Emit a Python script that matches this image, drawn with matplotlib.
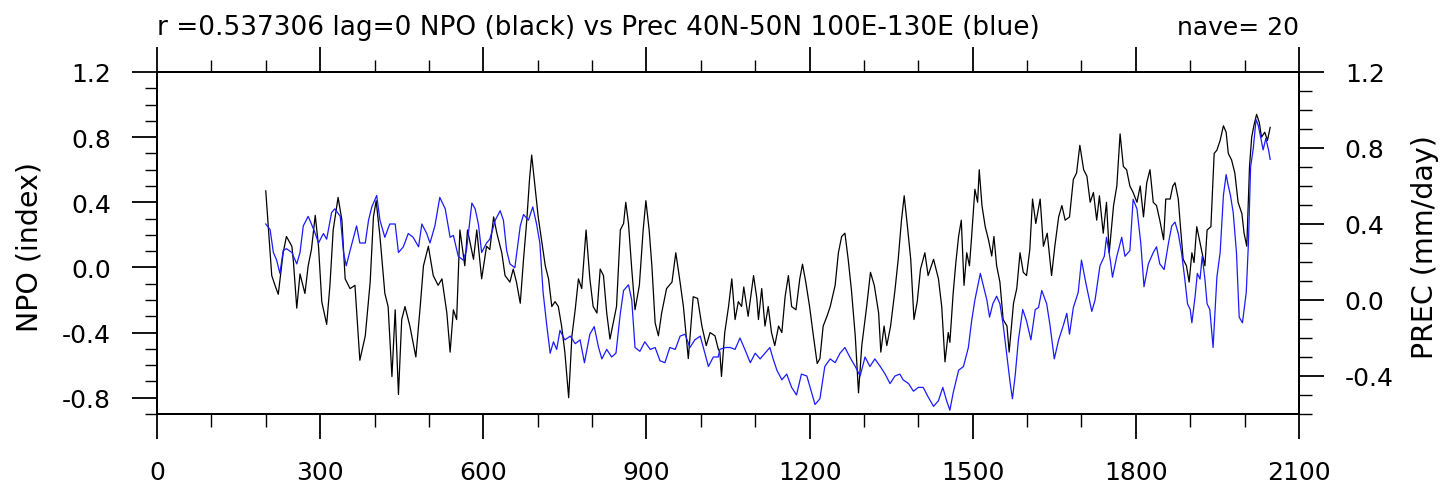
import numpy as np
import matplotlib.pyplot as plt
from matplotlib.ticker import FixedLocator, MultipleLocator

plt.rcParams['font.family'] = ['DejaVu Sans']
plt.rcParams['axes.unicode_minus'] = False

# NPO index (black, left axis), 20-yr running mean
npo_year = [200, 211, 217, 223, 232, 238, 248, 251, 257, 263,
            272, 278, 284, 291, 297, 303, 312, 318, 324, 333,
            340, 346, 355, 364, 373, 383, 392, 398, 403, 410,
            419, 425, 432, 438, 444, 450, 456, 465, 476, 484,
            490, 499, 508, 517, 524, 533, 539, 545, 551, 557,
            566, 571, 582, 588, 597, 606,
            612, 619, 625, 634, 640, 649, 655, 661, 668, 674,
            680, 685, 689, 695, 701, 707, 714, 720, 726, 732,
            738, 744, 750, 757, 763, 769, 775, 781, 789, 796,
            802, 809, 815, 821, 827, 833, 839, 845, 852, 858,
            862, 867, 873, 879, 887, 894, 899, 905, 910, 916,
            922, 928, 937, 947, 954, 961, 968, 977, 986, 994,
            1002, 1010, 1017, 1026, 1032,
            1035, 1038, 1044, 1051, 1057, 1063, 1069, 1075, 1079, 1087,
            1097, 1103, 1106, 1112, 1118, 1124, 1130, 1136, 1143, 1149,
            1155, 1161, 1167, 1175, 1182, 1187, 1193, 1200, 1207, 1214,
            1219, 1225, 1232, 1238, 1247, 1253, 1259, 1265, 1271, 1277,
            1284, 1290, 1296, 1305, 1312, 1319, 1327, 1331, 1337, 1342,
            1349, 1357, 1363, 1369, 1374, 1380, 1386, 1392, 1398, 1404,
            1412, 1418, 1428, 1437, 1443, 1449, 1455,
            1458, 1464, 1469, 1474, 1479, 1484, 1489, 1494, 1498, 1504,
            1509, 1512, 1517, 1523, 1529, 1535, 1539, 1544, 1550, 1556,
            1563, 1567, 1575, 1581, 1587, 1593, 1599, 1605, 1610, 1616,
            1624, 1630, 1637, 1645, 1651, 1658, 1664, 1670, 1678, 1685,
            1691, 1697, 1704, 1710, 1716, 1722, 1728, 1733, 1740, 1746,
            1751, 1759, 1765, 1771, 1777, 1783, 1789, 1795, 1802, 1808,
            1814, 1820, 1826,
            1832, 1838, 1844, 1851, 1855, 1863, 1868, 1872, 1878, 1882,
            1887, 1893, 1898, 1903, 1907, 1912, 1918, 1923, 1927, 1931,
            1938, 1944, 1949, 1955, 1961, 1966, 1970, 1976, 1982, 1988,
            1995, 1999, 2004, 2009, 2013, 2017, 2022, 2027, 2031, 2037,
            2042, 2047]
npo_val = [0.47, -0.05, -0.11, -0.165, 0.09, 0.19, 0.13, 0.03, -0.25, -0.04,
           -0.16, 0.01, 0.11, 0.32, 0.13, -0.21, -0.35, -0.11, 0.23, 0.43,
           0.29, -0.07, -0.13, -0.11, -0.57, -0.42, -0.09, 0.31, 0.41, 0.19,
           -0.16, -0.24, -0.67, -0.26, -0.78, -0.32, -0.24, -0.36, -0.55, -0.24,
           0.01, 0.13, -0.05, -0.11, -0.07, -0.28, -0.52, -0.26, -0.32, 0.23,
           0.01, 0.23, 0.05, 0.23, -0.07, 0.13,
           0.11, 0.31, 0.21, 0.09, -0.05, -0.09, -0.01, -0.09, -0.22, 0.05,
           0.29, 0.54, 0.69, 0.50, 0.31, 0.17, 0.01, -0.07, -0.24, -0.21,
           -0.24, -0.36, -0.52, -0.80, -0.42, -0.26, -0.07, -0.13, 0.23, -0.07,
           -0.24, -0.28, -0.01, -0.05, -0.28, -0.44, -0.34, -0.24, 0.23, 0.27,
           0.40, 0.27, -0.01, -0.26, -0.11, 0.23, 0.41, 0.23, 0.01, -0.34,
           -0.42, -0.28, -0.13, -0.09, 0.09, -0.07, -0.24, -0.56, -0.18, -0.19,
           -0.36, -0.48, -0.40, -0.42, -0.50,
           -0.52, -0.67, -0.40, -0.24, -0.07, -0.32, -0.21, -0.24, -0.12, -0.30,
           -0.05, -0.19, -0.32, -0.13, -0.36, -0.24, -0.40, -0.48, -0.36, -0.40,
           -0.18, -0.05, -0.24, -0.26, -0.07, 0.02, -0.09, -0.24, -0.42, -0.59,
           -0.56, -0.36, -0.30, -0.24, -0.11, 0.09, 0.19, 0.21, 0.05, -0.14,
           -0.42, -0.77, -0.48, -0.24, -0.03, -0.11, -0.28, -0.52, -0.36, -0.48,
           -0.36, -0.14, 0.05, 0.29, 0.44, 0.25, 0.05, -0.32, -0.21, -0.01,
           0.09, -0.05, 0.05, -0.07, -0.24, -0.58, -0.40,
           -0.46, -0.16, 0.03, 0.19, 0.29, -0.11, 0.09, 0.01, 0.19, 0.48,
           0.40, 0.60, 0.38, 0.25, 0.17, 0.07, 0.19, 0.01, -0.09, -0.32,
           -0.36, -0.52, -0.22, -0.13, 0.09, -0.03, -0.05, 0.11, 0.42, 0.27,
           0.42, 0.13, 0.21, -0.05, 0.13, 0.31, 0.38, 0.29, 0.31, 0.54,
           0.58, 0.75, 0.60, 0.56, 0.40, 0.46, 0.29, 0.44, 0.21, 0.40,
           0.09, 0.38, 0.50, 0.82, 0.62, 0.60, 0.50, 0.46, 0.40, 0.50,
           0.31, 0.52, 0.60,
           0.40, 0.38, 0.29, 0.17, 0.42, 0.42, 0.50, 0.52, 0.42, 0.25,
           0.05, 0.01, -0.09, 0.09, 0.03, 0.25, 0.15, 0.07, 0.01, 0.23,
           0.25, 0.70, 0.72, 0.78, 0.87, 0.83, 0.70, 0.66, 0.58, 0.40,
           0.33, 0.21, 0.13, 0.62, 0.80, 0.87, 0.94, 0.89, 0.80, 0.83,
           0.78, 0.86]

# precipitation 40N-50N 100E-130E (blue, right axis)
prec_year = [200, 208, 214, 220, 226, 232, 238, 248, 257, 263,
             269, 278, 284, 291, 297, 306, 312, 321, 327, 337,
             343, 348, 355, 367, 373, 383, 389, 395, 404, 410,
             419, 428, 438, 444, 453, 462, 471, 481, 487, 496,
             502, 511, 520, 530, 539, 545, 554, 563, 569, 579,
             585, 591, 597, 606,
             612, 622, 631, 637, 643, 649, 658, 668, 674, 683,
             691, 698, 704, 710, 717, 723, 729, 735, 741, 750,
             760, 769, 778, 786, 796, 804, 812, 818, 827, 836,
             844, 852, 858, 867, 873, 879, 888, 897, 907, 916,
             925, 934, 943, 953, 962, 971, 980, 989, 999, 1014,
             1023, 1032,
             1035, 1045, 1054, 1063, 1072, 1081, 1091, 1100, 1109, 1118,
             1127, 1133, 1140, 1149, 1158, 1167, 1176, 1185, 1195, 1204,
             1210, 1219, 1228, 1238, 1247, 1256, 1265, 1274, 1284, 1293,
             1302, 1311, 1320, 1330, 1339, 1348, 1357, 1366, 1372, 1382,
             1391, 1400, 1409, 1418, 1428, 1437, 1445, 1452,
             1458, 1464, 1474, 1483, 1492, 1498, 1504, 1514, 1520, 1526,
             1531, 1537, 1544, 1550, 1556, 1564, 1569, 1573, 1578, 1584,
             1592, 1599, 1607, 1615, 1621, 1627, 1636, 1642, 1650, 1658,
             1667, 1673, 1678, 1685, 1694, 1700, 1708, 1716, 1719, 1725,
             1734, 1742, 1746, 1753, 1757, 1765, 1774, 1780, 1789, 1795,
             1802, 1809, 1815, 1823,
             1832, 1838, 1844, 1852, 1860, 1866, 1872, 1878, 1884, 1890,
             1895, 1900, 1903, 1909, 1913, 1918, 1922, 1927, 1931, 1936,
             1942, 1949, 1955, 1961, 1966, 1970, 1974, 1979, 1985, 1990,
             1996, 2003, 2007, 2011, 2016, 2021, 2025, 2030, 2034, 2039,
             2044, 2047]
prec_val = [0.40, 0.37, 0.25, 0.21, 0.14, 0.26, 0.27, 0.25, 0.19, 0.25,
            0.39, 0.44, 0.40, 0.35, 0.30, 0.35, 0.32, 0.46, 0.48, 0.44,
            0.25, 0.18, 0.26, 0.39, 0.30, 0.30, 0.42, 0.49, 0.55, 0.42,
            0.33, 0.40, 0.40, 0.25, 0.28, 0.35, 0.33, 0.28, 0.40, 0.35,
            0.30, 0.39, 0.54, 0.48, 0.33, 0.34, 0.23, 0.21, 0.26, 0.51,
            0.48, 0.40, 0.25, 0.30,
            0.32, 0.42, 0.47, 0.42, 0.26, 0.19, 0.17, 0.39, 0.45, 0.42,
            0.49, 0.40, 0.30, 0.04, -0.14, -0.28, -0.22, -0.26, -0.16, -0.21,
            -0.19, -0.23, -0.21, -0.33, -0.18, -0.14, -0.25, -0.31, -0.26, -0.30,
            -0.28, -0.07, 0.05, 0.08, 0.00, -0.25, -0.27, -0.22, -0.26, -0.25,
            -0.32, -0.33, -0.25, -0.26, -0.19, -0.18, -0.25, -0.21, -0.19, -0.35,
            -0.30, -0.30,
            -0.26, -0.25, -0.25, -0.26, -0.20, -0.26, -0.33, -0.28, -0.31, -0.28,
            -0.25, -0.31, -0.37, -0.42, -0.39, -0.46, -0.50, -0.39, -0.40, -0.49,
            -0.55, -0.52, -0.35, -0.31, -0.33, -0.28, -0.25, -0.30, -0.35, -0.40,
            -0.30, -0.35, -0.31, -0.35, -0.39, -0.44, -0.40, -0.39, -0.42, -0.44,
            -0.48, -0.46, -0.46, -0.51, -0.56, -0.53, -0.46, -0.53,
            -0.58, -0.49, -0.37, -0.35, -0.25, -0.11, 0.00, 0.14, 0.07, 0.00,
            -0.09, -0.02, 0.02, -0.02, -0.13, -0.32, -0.44, -0.52, -0.40, -0.21,
            -0.05, -0.11, -0.21, -0.05, -0.04, 0.05, -0.02, -0.13, -0.31, -0.21,
            -0.13, -0.07, -0.18, -0.04, 0.04, 0.21, 0.09, -0.02, -0.06, 0.00,
            0.18, 0.23, 0.33, 0.21, 0.12, 0.23, 0.33, 0.23, 0.26, 0.53,
            0.48, 0.30, 0.07, 0.19,
            0.25, 0.28, 0.19, 0.16, 0.30, 0.39, 0.41, 0.35, 0.25, 0.11,
            -0.02, -0.05, -0.12, 0.02, 0.14, 0.11, 0.23, 0.11, -0.02, -0.05,
            -0.25, 0.12, 0.25, 0.55, 0.66, 0.60, 0.55, 0.46, 0.25, -0.09,
            -0.12, 0.04, 0.30, 0.70, 0.80, 0.95, 0.92, 0.85, 0.79, 0.85,
            0.79, 0.74]

x_ticks = [0, 300, 600, 900, 1200, 1500, 1800, 2100]
left_ticks = [-0.8, -0.4, 0.0, 0.4, 0.8, 1.2]
right_ticks = [-0.4, 0.0, 0.4, 0.8, 1.2]

title = "r =0.537306 lag=0 NPO (black) vs Prec 40N-50N 100E-130E (blue)"

W, H = 1445, 489
fig = plt.figure(figsize=(W / 100, H / 100), dpi=100)
ax = fig.add_axes([157 / W, 1 - 415 / H, (1299 - 157) / W, (415 - 73) / H])
ax2 = ax.twinx()

ax.plot(npo_year, npo_val, color="black", lw=0.9)
ax2.plot(prec_year, prec_val, color="#1a1aff", lw=0.9)

ax.set_xlim(0, 2100)
ax.set_ylim(-0.9, 1.2)
ax2.set_ylim(-0.6, 1.2)

ax.xaxis.set_major_locator(FixedLocator(x_ticks))
ax.xaxis.set_minor_locator(MultipleLocator(100))
ax.set_yticks(left_ticks)
ax.set_yticklabels(["%.1f" % v for v in left_ticks])
ax.yaxis.set_minor_locator(MultipleLocator(0.1))
ax2.set_yticks(right_ticks)
ax2.set_yticklabels(["%.1f" % v for v in right_ticks])
ax2.yaxis.set_minor_locator(MultipleLocator(0.1))

for a in (ax, ax2):
    a.tick_params(which="major", direction="out", length=18, width=1.3,
                  labelsize=18, pad=15)
    a.tick_params(which="minor", direction="out", length=9, width=1.0)
    for s in a.spines.values():
        s.set_linewidth(1.4)
ax.tick_params(which="both", top=True, labeltop=False)

fig.text(157 / W, 1 - 35 / H, title, ha="left", va="baseline", fontsize=19)
fig.text(1299 / W, 1 - 35 / H, "nave= 20", ha="right", va="baseline", fontsize=18)
fig.text(30 / W, 1 - 247 / H, "NPO (index)", rotation=90, ha="center",
         va="center", fontsize=20.5)
fig.text(1425 / W, 1 - 247 / H, "PREC (mm/day)", rotation=90, ha="center",
         va="center", fontsize=20.5)

fig.savefig("out.png", dpi=100)
